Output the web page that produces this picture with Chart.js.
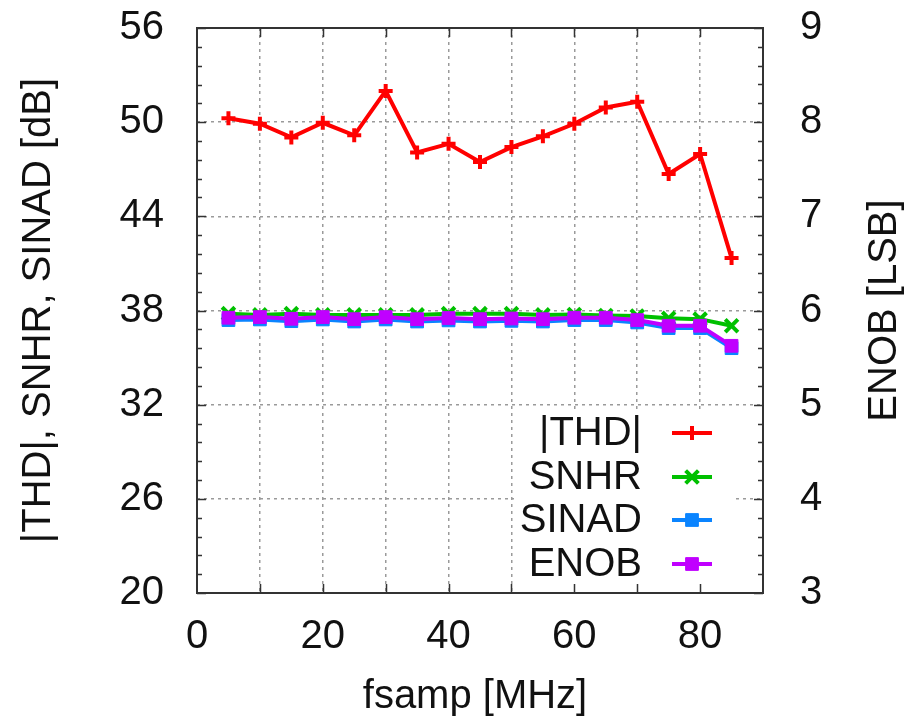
<!DOCTYPE html>
<html>
<head>
<meta charset="utf-8">
<script src="https://cdn.jsdelivr.net/npm/chart.js@4/dist/chart.umd.min.js"></script>
<style>
  html, body { margin: 0; padding: 0; background: #fff; }
  canvas { display: block; }
</style>
</head>
<body>
<canvas id="c" width="913" height="721"></canvas>
<script>
// Sampling frequency sweep [MHz]
const fsamp = [5, 10, 15, 20, 25, 30, 35, 40, 45, 50, 55, 60, 65, 70, 75, 80, 85];

// Measured dynamic figures [dB]
const thd   = [50.25, 49.9, 49.03, 49.96, 49.16, 51.99, 48.07, 48.62, 47.46, 48.41, 49.1, 49.9, 50.94, 51.3, 46.7, 47.97, 41.34];
const snhr  = [37.8, 37.72, 37.8, 37.72, 37.72, 37.72, 37.72, 37.8, 37.8, 37.8, 37.72, 37.75, 37.68, 37.65, 37.5, 37.45, 37.03];
const sinad = [37.39, 37.43, 37.32, 37.43, 37.3, 37.43, 37.3, 37.37, 37.3, 37.34, 37.3, 37.39, 37.39, 37.24, 36.88, 36.88, 35.6];

// Effective number of bits [LSB]
const enob  = [5.923, 5.93, 5.912, 5.93, 5.908, 5.93, 5.908, 5.92, 5.908, 5.915, 5.908, 5.923, 5.923, 5.898, 5.838, 5.838, 5.625];

// Axis tick values
const xTickLabels = [0, 20, 40, 60, 80];
const dbTicks   = [20, 26, 32, 38, 44, 50, 56];
const lsbTicks  = [3, 4, 5, 6, 7, 8, 9];

const FONT = '"Liberation Sans", Arial, Helvetica, sans-serif';
const TEXT = '#111';
const COLORS = { thd: '#ff0000', snhr: '#00c000', sinad: '#0a84ff', enob: '#c000ff' };

const series = [
  { label: '|THD|', data: thd,   color: COLORS.thd,   style: 'cross',    radius: 7, bw: 4,   axis: 'y',  order: 3 },
  { label: 'SNHR',  data: snhr,  color: COLORS.snhr,  style: 'crossRot', radius: 9, bw: 4,   axis: 'y',  order: 2 },
  { label: 'SINAD', data: sinad, color: COLORS.sinad, style: 'rect',     radius: 9, bw: 1,   axis: 'y',  order: 1 },
  { label: 'ENOB',  data: enob,  color: COLORS.enob,  style: 'rect',     radius: 9, bw: 1,   axis: 'y2', order: 0 }
];

const datasets = series.map(s => ({
  label: s.label,
  data: fsamp.map((f, i) => ({ x: f, y: s.data[i] })),
  yAxisID: s.axis,
  order: s.order,
  borderColor: s.color,
  backgroundColor: s.color,
  borderWidth: 4,
  pointStyle: s.style,
  pointRadius: s.radius,
  pointBorderWidth: s.bw,
  pointBorderColor: s.color,
  pointBackgroundColor: s.color,
  tension: 0,
  fill: false
}));

// Frame, inward ticks, key and axis titles in gnuplot style
const decor = {
  id: 'decor',
  beforeDatasetsDraw(chart) {
    const ctx = chart.ctx;
    ctx.save();
    ctx.fillStyle = '#fff';
    ctx.fillRect(514, 410, 222, 182);
    ctx.restore();
  },
  afterDatasetsDraw(chart) {
    const ctx = chart.ctx;
    const a = chart.chartArea;
    const sx = chart.scales.x, sy = chart.scales.y, sy2 = chart.scales.y2;
    ctx.save();
    ctx.strokeStyle = '#333';
    ctx.lineWidth = 1.5;
    ctx.beginPath();
    // x ticks (bottom and top)
    for (let v = 10; v < 90; v += 10) {
      const px = Math.round(sx.getPixelForValue(v)) + 0.5;
      ctx.moveTo(px, a.bottom); ctx.lineTo(px, a.bottom - 9);
      ctx.moveTo(px, a.top);    ctx.lineTo(px, a.top + 9);
    }
    // left ticks: major every 6 dB, minor every 1.2 dB
    for (let k = 0; k <= 30; k++) {
      const v = 20 + k * 1.2;
      const py = Math.round(sy.getPixelForValue(v)) + 0.5;
      const len = (k % 5 === 0) ? 9 : 5;
      ctx.moveTo(a.left, py); ctx.lineTo(a.left + len, py);
    }
    // right ticks: major every 1 LSB, minor every 0.2 LSB
    for (let k = 0; k <= 30; k++) {
      const v = 3 + k * 0.2;
      const py = Math.round(sy2.getPixelForValue(v)) + 0.5;
      const len = (k % 5 === 0) ? 9 : 5;
      ctx.moveTo(a.right, py); ctx.lineTo(a.right - len, py);
    }
    ctx.stroke();
    ctx.lineWidth = 2;
    ctx.strokeRect(a.left, a.top, a.right - a.left, a.bottom - a.top);

    // key
    ctx.font = '40px ' + FONT;
    ctx.fillStyle = TEXT;
    ctx.textAlign = 'right';
    ctx.textBaseline = 'middle';
    const rows = [433, 477, 520, 564];
    series.forEach((s, i) => {
      const y = rows[i];
      ctx.fillStyle = TEXT;
      ctx.fillText(s.label, 642, y + 1);
      ctx.strokeStyle = s.color;
      ctx.fillStyle = s.color;
      ctx.lineWidth = 4;
      ctx.beginPath();
      ctx.moveTo(672, y); ctx.lineTo(712, y);
      ctx.stroke();
      ctx.lineWidth = s.bw;
      Chart.helpers.drawPoint(ctx, { pointStyle: s.style, radius: s.radius, borderWidth: s.bw, rotation: 0 }, 692, y);
    });

    // axis titles
    ctx.fillStyle = TEXT;
    ctx.textAlign = 'center';
    ctx.textBaseline = 'middle';
    ctx.save();
    ctx.translate(39, (a.top + a.bottom) / 2);
    ctx.rotate(-Math.PI / 2);
    ctx.fillText('|THD|, SNHR, SINAD [dB]', 0, 0);
    ctx.restore();
    ctx.save();
    ctx.translate(885, (a.top + a.bottom) / 2);
    ctx.rotate(-Math.PI / 2);
    ctx.fillText('ENOB [LSB]', 0, 0);
    ctx.restore();
    ctx.fillText('fsamp [MHz]', 475, 697);
    ctx.restore();
  }
};

const gridStyle = {
  color: '#9a9a9a',
  lineWidth: 1.5,
  drawTicks: false
};

function fixVertical(width) {
  return function (s) {
    s.width = width;
    s.paddingTop = 0;
    s.paddingBottom = 0;
  };
}

new Chart(document.getElementById('c'), {
  type: 'line',
  data: { datasets },
  options: {
    responsive: false,
    animation: false,
    events: [],
    layout: { padding: { top: 28, left: 0, right: 0, bottom: 0 } },
    plugins: { legend: { display: false }, tooltip: { enabled: false } },
    scales: {
      x: {
        type: 'linear',
        min: 0, max: 90,
        border: { display: false, dash: [3, 4] },
        grid: gridStyle,
        ticks: {
          stepSize: 10,
          autoSkip: false,
          maxRotation: 0,
          padding: 20,
          color: TEXT,
          font: { family: FONT, size: 40 },
          callback: v => xTickLabels.includes(v) ? String(v) : ''
        },
        afterFit(s) { s.height = 128; s.paddingLeft = 0; s.paddingRight = 0; }
      },
      y: {
        type: 'linear',
        position: 'left',
        min: 20, max: 56,
        border: { display: false, dash: [3, 4] },
        grid: gridStyle,
        ticks: {
          stepSize: 6,
          padding: 33,
          color: TEXT,
          font: { family: FONT, size: 40 },
          callback: v => dbTicks.includes(v) ? String(v) : ''
        },
        afterFit: fixVertical(197)
      },
      y2: {
        type: 'linear',
        position: 'right',
        min: 3, max: 9,
        border: { display: false },
        grid: { display: false, drawTicks: false },
        ticks: {
          stepSize: 1,
          padding: 37,
          color: TEXT,
          font: { family: FONT, size: 40 },
          callback: v => lsbTicks.includes(v) ? String(v) : ''
        },
        afterFit: fixVertical(150)
      }
    }
  },
  plugins: [decor]
});
</script>
</body>
</html>
